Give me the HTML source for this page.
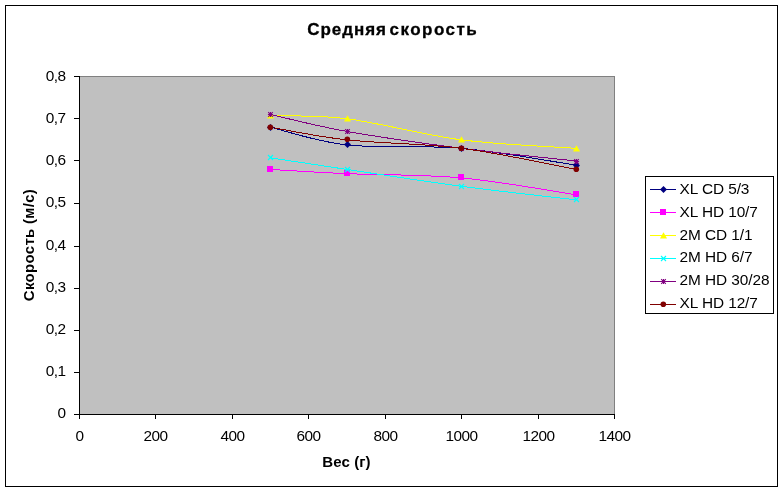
<!DOCTYPE html>
<html lang="ru"><head><meta charset="utf-8"><title>Средняя скорость</title>
<style>html,body{margin:0;padding:0;background:#fff;overflow:hidden}svg{display:block}text{font-family:"Liberation Sans",Arial,sans-serif;fill:#000}.b{font-weight:bold}</style></head><body>
<svg width="783" height="491" viewBox="0 0 783 491">
<rect x="0" y="0" width="783" height="491" fill="#fff"/>
<rect x="5.5" y="5.5" width="772" height="481" fill="#fff" stroke="#000" stroke-width="1" shape-rendering="crispEdges"/>
<rect x="79.5" y="76.5" width="535" height="338" fill="#C0C0C0" stroke="#808080" stroke-width="1" shape-rendering="crispEdges"/>
<g stroke="#000" stroke-width="1" shape-rendering="crispEdges" fill="none">
<line x1="79.5" y1="76" x2="79.5" y2="419"/>
<line x1="74" y1="414.5" x2="614" y2="414.5"/>
<line x1="74" y1="414.5" x2="80" y2="414.5"/>
<line x1="74" y1="372.5" x2="80" y2="372.5"/>
<line x1="74" y1="330.5" x2="80" y2="330.5"/>
<line x1="74" y1="288.5" x2="80" y2="288.5"/>
<line x1="74" y1="246.5" x2="80" y2="246.5"/>
<line x1="74" y1="203.5" x2="80" y2="203.5"/>
<line x1="74" y1="160.5" x2="80" y2="160.5"/>
<line x1="74" y1="118.5" x2="80" y2="118.5"/>
<line x1="74" y1="76.5" x2="80" y2="76.5"/>
<line x1="79.5" y1="414" x2="79.5" y2="419"/>
<line x1="155.5" y1="414" x2="155.5" y2="419"/>
<line x1="232.5" y1="414" x2="232.5" y2="419"/>
<line x1="308.5" y1="414" x2="308.5" y2="419"/>
<line x1="385.5" y1="414" x2="385.5" y2="419"/>
<line x1="461.5" y1="414" x2="461.5" y2="419"/>
<line x1="538.5" y1="414" x2="538.5" y2="419"/>
<line x1="614.5" y1="414" x2="614.5" y2="419"/>
</g>
<g font-size="15.4px" letter-spacing="-0.55">
<text x="65.6" y="418.3" text-anchor="end">0</text>
<text x="65.6" y="376.3" text-anchor="end">0,1</text>
<text x="65.6" y="334.3" text-anchor="end">0,2</text>
<text x="65.6" y="292.3" text-anchor="end">0,3</text>
<text x="65.6" y="250.3" text-anchor="end">0,4</text>
<text x="65.6" y="207.3" text-anchor="end">0,5</text>
<text x="65.6" y="165.3" text-anchor="end">0,6</text>
<text x="65.6" y="123.3" text-anchor="end">0,7</text>
<text x="65.6" y="81.3" text-anchor="end">0,8</text>
<text x="79.5" y="440.5" text-anchor="middle">0</text>
<text x="155.5" y="440.5" text-anchor="middle">200</text>
<text x="232.5" y="440.5" text-anchor="middle">400</text>
<text x="308.5" y="440.5" text-anchor="middle">600</text>
<text x="385.5" y="440.5" text-anchor="middle">800</text>
<text x="461.5" y="440.5" text-anchor="middle">1000</text>
<text x="538.5" y="440.5" text-anchor="middle">1200</text>
<text x="614.5" y="440.5" text-anchor="middle">1400</text>
</g>
<text class="b" y="35" font-size="17px" stroke="#000" stroke-width="0.3"><tspan x="307.3" letter-spacing="0.95">Средняя </tspan><tspan x="389.6" letter-spacing="1.45">скорость</tspan></text>
<text class="b" x="346.5" y="467" font-size="15px" letter-spacing="0.1" text-anchor="middle">Вес (г)</text>
<text class="b" transform="translate(34,245) rotate(-90)" font-size="15px" letter-spacing="0.3" text-anchor="middle">Скорость (м/с)</text>
<path d="M270.57,127.20 C283.31,130.16 315.15,141.42 347.00,144.94 C378.85,148.47 423.43,144.95 461.64,148.33 C499.86,151.71 557.18,162.41 576.29,165.23" stroke="#000080" stroke-width="1" fill="none" shape-rendering="crispEdges"/>
<path d="M270.57,169.45 C283.31,170.15 315.15,172.27 347.00,173.68 C378.85,175.08 423.43,174.38 461.64,177.90 C499.86,181.42 557.18,191.98 576.29,194.80" stroke="#FF00FF" stroke-width="1" fill="none" shape-rendering="crispEdges"/>
<path d="M270.57,115.79 C283.31,116.29 315.15,114.74 347.00,118.75 C378.85,122.76 423.43,134.95 461.64,139.88 C499.86,144.80 557.18,146.92 576.29,148.33" stroke="#FFFF00" stroke-width="1" fill="none" shape-rendering="crispEdges"/>
<path d="M270.57,157.83 C283.31,159.77 315.15,164.70 347.00,169.45 C378.85,174.20 423.43,181.28 461.64,186.35 C499.86,191.42 557.18,197.62 576.29,199.87" stroke="#00FFFF" stroke-width="1" fill="none" shape-rendering="crispEdges"/>
<path d="M270.57,114.53 C283.31,117.34 315.15,125.79 347.00,131.43 C378.85,137.06 423.43,143.40 461.64,148.33 C499.86,153.25 557.18,158.89 576.29,161.00" stroke="#800080" stroke-width="1" fill="none" shape-rendering="crispEdges"/>
<path d="M270.57,127.20 C283.31,129.31 315.15,136.35 347.00,139.88 C378.85,143.40 423.43,143.40 461.64,148.33 C499.86,153.25 557.18,165.93 576.29,169.45" stroke="#800000" stroke-width="1" fill="none" shape-rendering="crispEdges"/>
<polygon points="270.5,124.0 274.0,127.5 270.5,131.0 267.0,127.5" fill="#000080"/>
<polygon points="347.5,141.0 351.0,144.5 347.5,148.0 344.0,144.5" fill="#000080"/>
<polygon points="461.5,145.0 465.0,148.5 461.5,152.0 458.0,148.5" fill="#000080"/>
<polygon points="576.5,162.0 580.0,165.5 576.5,169.0 573.0,165.5" fill="#000080"/>
<rect x="267.0" y="166.0" width="6" height="6" fill="#FF00FF"/>
<rect x="344.0" y="170.0" width="6" height="6" fill="#FF00FF"/>
<rect x="458.0" y="174.0" width="6" height="6" fill="#FF00FF"/>
<rect x="573.0" y="191.0" width="6" height="6" fill="#FF00FF"/>
<polygon points="270.5,112.2 274.0,118.5 267.0,118.5" fill="#FFFF00"/>
<polygon points="347.5,115.2 351.0,121.5 344.0,121.5" fill="#FFFF00"/>
<polygon points="461.5,136.2 465.0,142.5 458.0,142.5" fill="#FFFF00"/>
<polygon points="576.5,145.2 580.0,151.5 573.0,151.5" fill="#FFFF00"/>
<path d="M268.0,155.0 L273.0,160.0 M273.0,155.0 L268.0,160.0" stroke="#00FFFF" stroke-width="1.1" fill="none"/>
<path d="M345.0,167.0 L350.0,172.0 M350.0,167.0 L345.0,172.0" stroke="#00FFFF" stroke-width="1.1" fill="none"/>
<path d="M459.0,184.0 L464.0,189.0 M464.0,184.0 L459.0,189.0" stroke="#00FFFF" stroke-width="1.1" fill="none"/>
<path d="M574.0,197.0 L579.0,202.0 M579.0,197.0 L574.0,202.0" stroke="#00FFFF" stroke-width="1.1" fill="none"/>
<path d="M268.2,112.2 L272.8,116.8 M272.8,112.2 L268.2,116.8 M270.5,111.9 L270.5,117.1 M267.9,114.5 L273.1,114.5" stroke="#800080" stroke-width="1.1" fill="none"/>
<path d="M345.2,129.2 L349.8,133.8 M349.8,129.2 L345.2,133.8 M347.5,128.9 L347.5,134.1 M344.9,131.5 L350.1,131.5" stroke="#800080" stroke-width="1.1" fill="none"/>
<path d="M459.2,146.2 L463.8,150.8 M463.8,146.2 L459.2,150.8 M461.5,145.9 L461.5,151.1 M458.9,148.5 L464.1,148.5" stroke="#800080" stroke-width="1.1" fill="none"/>
<path d="M574.2,159.2 L578.8,163.8 M578.8,159.2 L574.2,163.8 M576.5,158.9 L576.5,164.1 M573.9,161.5 L579.1,161.5" stroke="#800080" stroke-width="1.1" fill="none"/>
<circle cx="270.3" cy="127.2" r="2.8" fill="#800000"/>
<circle cx="347.3" cy="139.2" r="2.8" fill="#800000"/>
<circle cx="461.3" cy="148.2" r="2.8" fill="#800000"/>
<circle cx="576.3" cy="169.2" r="2.8" fill="#800000"/>
<rect x="645.5" y="176.5" width="128" height="137" fill="#fff" stroke="#000" stroke-width="1" shape-rendering="crispEdges"/>
<g font-size="15.4px">
<line x1="650" y1="189.5" x2="676" y2="189.5" stroke="#000080" stroke-width="1" shape-rendering="crispEdges"/>
<polygon points="663.5,186.0 667.0,189.5 663.5,193.0 660.0,189.5" fill="#000080"/>
<text x="679.6" y="194" letter-spacing="-0.08">XL CD 5/3</text>
<line x1="650" y1="212.5" x2="676" y2="212.5" stroke="#FF00FF" stroke-width="1" shape-rendering="crispEdges"/>
<rect x="660.0" y="209.0" width="6" height="6" fill="#FF00FF"/>
<text x="679.6" y="217" letter-spacing="-0.08">XL HD 10/7</text>
<line x1="650" y1="235.5" x2="676" y2="235.5" stroke="#FFFF00" stroke-width="1" shape-rendering="crispEdges"/>
<polygon points="663.5,232.2 667.0,238.5 660.0,238.5" fill="#FFFF00"/>
<text x="679.6" y="240" letter-spacing="-0.08">2M CD 1/1</text>
<line x1="650" y1="258.5" x2="676" y2="258.5" stroke="#00FFFF" stroke-width="1" shape-rendering="crispEdges"/>
<path d="M661.0,256.0 L666.0,261.0 M666.0,256.0 L661.0,261.0" stroke="#00FFFF" stroke-width="1.1" fill="none"/>
<text x="679.6" y="262" letter-spacing="-0.08">2M HD 6/7</text>
<line x1="650" y1="281.5" x2="676" y2="281.5" stroke="#800080" stroke-width="1" shape-rendering="crispEdges"/>
<path d="M661.2,279.2 L665.8,283.8 M665.8,279.2 L661.2,283.8 M663.5,278.9 L663.5,284.1 M660.9,281.5 L666.1,281.5" stroke="#800080" stroke-width="1.1" fill="none"/>
<text x="679.6" y="285" letter-spacing="-0.08">2M HD 30/28</text>
<line x1="650" y1="304.5" x2="676" y2="304.5" stroke="#800000" stroke-width="1" shape-rendering="crispEdges"/>
<circle cx="663.3" cy="304.2" r="2.8" fill="#800000"/>
<text x="679.6" y="308" letter-spacing="-0.08">XL HD 12/7</text>
</g>
</svg></body></html>
